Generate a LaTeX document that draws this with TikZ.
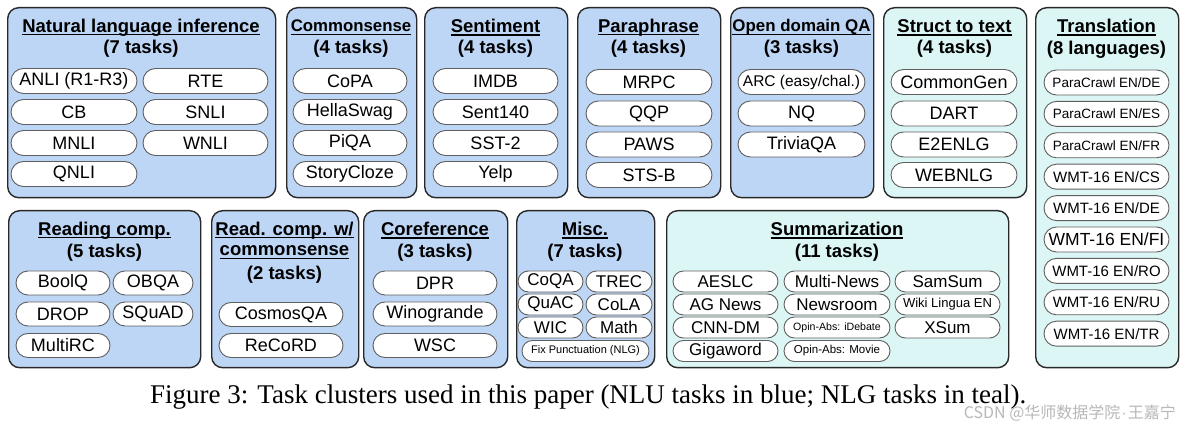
\documentclass[tikz,border=0pt]{standalone}
\usepackage{fontspec}
\setmainfont{Liberation Serif}
\setsansfont{Liberation Sans}
\newfontfamily\cjkfont{Noto Sans CJK SC}
\definecolor{nlublue}{RGB}{190,214,245}
\definecolor{nlgteal}{RGB}{219,246,244}
\definecolor{edgec}{RGB}{40,40,40}
\definecolor{pilledge}{RGB}{95,95,95}
\newcommand\ulx[1]{\setbox0\hbox{#1}\rlap{\rule[-0.17em]{\wd0}{0.07em}}\box0}
\tikzset{
  grp/.style={draw=edgec, line width=1.4pt, rounded corners=11pt, inner sep=0pt, anchor=north west},
  nlu/.style={grp, fill=nlublue},
  nlg/.style={grp, fill=nlgteal},
  pill/.style={draw=pilledge, line width=0.9pt, fill=white, inner sep=0pt, minimum height=#1, rounded corners=#1/2},
  fs/.style={font=\sffamily\fontsize{#1}{#1}\selectfont},
  ttl/.style={inner sep=0pt, font=\sffamily\bfseries\fontsize{#1}{20}\selectfont},
  ttl/.default=18.5,
}
\begin{document}
\begin{tikzpicture}[x=1pt,y=-1pt]
\useasboundingbox (0,0) rectangle (1184,430);
\fill[white] (0,0) rectangle (1184,430);

% ---------- top row ----------
\node[nlu, minimum width=268, minimum height=190] (bnli) at (7,7) {};
\node[ttl] (tnli1) at (141,27.5) {\ulx{Natural language inference}};
\node[ttl] (tnli2) at (141,48.5) {(7 tasks)};
\node[pill=25, minimum width=126, fs=18] (anli) at (74,81) {ANLI (R1-R3)};
\node[pill=25, minimum width=126, fs=18] (cb) at (74,112) {CB};
\node[pill=25, minimum width=126, fs=18] (mnli) at (74,143) {MNLI};
\node[pill=25, minimum width=126, fs=18] (qnli) at (74,174) {QNLI};
\node[pill=25, minimum width=125, fs=18] (rte) at (205.5,81) {RTE};
\node[pill=25, minimum width=125, fs=18] (snli) at (205.5,112) {SNLI};
\node[pill=25, minimum width=125, fs=18] (wnli) at (205.5,143) {WNLI};

\node[nlu, minimum width=130, minimum height=190] (bcs) at (286,7) {};
\node[ttl=16.8] (tcs1) at (351,27.5) {\ulx{Commonsense}};
\node[ttl] (tcs2) at (351,48.5) {(4 tasks)};
\node[pill=25, minimum width=114, fs=18] (copa) at (350,81) {CoPA};
\node[pill=25, minimum width=114, fs=18] (hella) at (350,112) {HellaSwag};
\node[pill=25, minimum width=114, fs=18] (piqa) at (350,143) {PiQA};
\node[pill=25, minimum width=114, fs=18] (story) at (350,174) {StoryCloze};

\node[nlu, minimum width=143, minimum height=190] (bsen) at (424,7) {};
\node[ttl] (tsen1) at (495.5,27.5) {\ulx{Sentiment}};
\node[ttl] (tsen2) at (495.5,48.5) {(4 tasks)};
\node[pill=25, minimum width=125, fs=18] (imdb) at (495.5,81) {IMDB};
\node[pill=25, minimum width=125, fs=18] (s140) at (495.5,112) {Sent140};
\node[pill=25, minimum width=125, fs=18] (sst) at (495.5,143) {SST-2};
\node[pill=25, minimum width=125, fs=18] (yelp) at (495.5,174) {Yelp};

\node[nlu, minimum width=143, minimum height=190] (bpar) at (577,7) {};
\node[ttl] (tpar1) at (648.5,27.5) {\ulx{Paraphrase}};
\node[ttl] (tpar2) at (648.5,48.5) {(4 tasks)};
\node[pill=25, minimum width=126, fs=18] (mrpc) at (649,82) {MRPC};
\node[pill=25, minimum width=126, fs=18] (qqp) at (649,113.5) {QQP};
\node[pill=25, minimum width=126, fs=18] (paws) at (649,144.5) {PAWS};
\node[pill=25, minimum width=126, fs=18] (stsb) at (649,175) {STS-B};

\node[nlu, minimum width=143, minimum height=190] (bqa) at (730,7) {};
\node[ttl=16.9] (tqa1) at (801.5,27.5) {\ulx{Open domain QA}};
\node[ttl] (tqa2) at (801.5,48.5) {(3 tasks)};
\node[pill=25, minimum width=127, fs=15.5] (arc) at (801.5,82) {ARC (easy/chal.)};
\node[pill=25, minimum width=127, fs=18] (nq) at (801.5,113.5) {NQ};
\node[pill=25, minimum width=127, fs=18] (trivia) at (801.5,144.5) {TriviaQA};

\node[nlg, minimum width=143, minimum height=190] (bst) at (883,7) {};
\node[ttl] (tst1) at (954.5,27.5) {\ulx{Struct to text}};
\node[ttl] (tst2) at (954.5,48.5) {(4 tasks)};
\node[pill=25, minimum width=126, fs=18] (cgen) at (954,82) {CommonGen};
\node[pill=25, minimum width=126, fs=18] (dart) at (954,113.5) {DART};
\node[pill=25, minimum width=126, fs=18] (e2e) at (954,144.5) {E2ENLG};
\node[pill=25, minimum width=126, fs=18] (web) at (954,175) {WEBNLG};

\node[nlg, minimum width=143, minimum height=360] (btr) at (1035,7) {};
\node[ttl] (ttr1) at (1106.5,27.5) {\ulx{Translation}};
\node[ttl] (ttr2) at (1106.5,49.5) {(8 languages)};
\node[pill=25, minimum width=125, fs=13.5] (pde) at (1106.5,82.5) {ParaCrawl EN/DE};
\node[pill=25, minimum width=125, fs=13.5] (pes) at (1106.5,113.9) {ParaCrawl EN/ES};
\node[pill=25, minimum width=125, fs=13.5] (pfr) at (1106.5,145.3) {ParaCrawl EN/FR};
\node[pill=25, minimum width=125, fs=15] (wcs) at (1106.5,176.7) {WMT-16 EN/CS};
\node[pill=25, minimum width=125, fs=15] (wde) at (1106.5,208.1) {WMT-16 EN/DE};
\node[pill=25, minimum width=125, fs=17.5] (wfi) at (1106.5,239.5) {WMT-16 EN/FI};
\node[pill=25, minimum width=125, fs=15] (wro) at (1106.5,270.9) {WMT-16 EN/RO};
\node[pill=25, minimum width=125, fs=15] (wru) at (1106.5,302.3) {WMT-16 EN/RU};
\node[pill=25, minimum width=125, fs=15] (wtr) at (1106.5,333.7) {WMT-16 EN/TR};

% ---------- bottom row ----------
\node[nlu, minimum width=192, minimum height=157] (brc) at (8,210) {};
\node[ttl] (trc1) at (104.5,230.5) {\ulx{Reading comp.}};
\node[ttl] (trc2) at (104.5,252.5) {(5 tasks)};
\node[pill=24, minimum width=94, fs=18] (boolq) at (63,283) {BoolQ};
\node[pill=24, minimum width=94, fs=18] (drop) at (63,314) {DROP};
\node[pill=24, minimum width=94, fs=18] (multirc) at (63,345.5) {MultiRC};
\node[pill=24, minimum width=80, fs=18] (obqa) at (153,283) {OBQA};
\node[pill=24, minimum width=80, fs=18] (squad) at (153,314) {SQuAD};

\node[nlu, minimum width=147, minimum height=157] (brcc) at (211,210) {};
\node[ttl] (trcc1) at (284.5,230.5) {\ulx{Read. comp. w/}};
\node[ttl] (trcc2) at (284.5,252.5) {\ulx{commonsense}};
\node[ttl] (trcc3) at (284.5,274.5) {(2 tasks)};
\node[pill=24, minimum width=124, fs=18] (cosmos) at (281,314.5) {CosmosQA};
\node[pill=24, minimum width=124, fs=18] (record) at (281,345.5) {ReCoRD};

\node[nlu, minimum width=144, minimum height=157] (bco) at (363,210) {};
\node[ttl] (tco1) at (435,230.5) {\ulx{Coreference}};
\node[ttl] (tco2) at (435,252.5) {(3 tasks)};
\node[pill=24, minimum width=124, fs=18] (dpr) at (435,283) {DPR};
\node[pill=24, minimum width=124, fs=18] (wino) at (435,314) {Winogrande};
\node[pill=24, minimum width=124, fs=18] (wsc) at (435,345.5) {WSC};

\node[nlu, minimum width=138, minimum height=157] (bmi) at (516,210) {};
\node[ttl] (tmi1) at (585,230.5) {\ulx{Misc.}};
\node[ttl] (tmi2) at (585,252.5) {(7 tasks)};
\node[pill=21, minimum width=65, fs=17] (coqa) at (550.5,281.5) {CoQA};
\node[pill=21, minimum width=65, fs=17] (quac) at (550.5,304.5) {QuAC};
\node[pill=21, minimum width=65, fs=17] (wic) at (550.5,327.5) {WIC};
\node[pill=21, minimum width=66, fs=17] (trec) at (619,281.5) {TREC};
\node[pill=21, minimum width=66, fs=17] (cola) at (619,304.5) {CoLA};
\node[pill=21, minimum width=66, fs=17] (math) at (619,327.5) {Math};
\node[pill=21, minimum width=127, fs=11] (fixp) at (585.5,351) {Fix Punctuation (NLG)};

\node[nlg, minimum width=342, minimum height=157] (bsu) at (666,210) {};
\node[ttl] (tsu1) at (837,230.5) {\ulx{Summarization}};
\node[ttl] (tsu2) at (837,252.5) {(11 tasks)};
\node[pill=21, minimum width=105, fs=17] (aeslc) at (725.5,281.5) {AESLC};
\node[pill=21, minimum width=105, fs=17] (agnews) at (725.5,304.5) {AG News};
\node[pill=21, minimum width=105, fs=17] (cnndm) at (725.5,327.5) {CNN-DM};
\node[pill=21, minimum width=105, fs=17] (giga) at (725.5,351) {Gigaword};
\node[pill=21, minimum width=106, fs=17] (mnews) at (837,281.5) {Multi-News};
\node[pill=21, minimum width=106, fs=17] (newsroom) at (837,304.5) {Newsroom};
\node[pill=21, minimum width=106, fs=10.6] (idebate) at (837,327.5) {Opin-Abs: iDebate};
\node[pill=21, minimum width=106, fs=11.5] (movie) at (837,351) {Opin-Abs: Movie};
\node[pill=21, minimum width=105, fs=17] (samsum) at (947.5,281.5) {SamSum};
\node[pill=21, minimum width=105, fs=13] (wiki) at (947.5,304.5) {Wiki Lingua EN};
\node[pill=21, minimum width=105, fs=17] (xsum) at (947.5,327.5) {XSum};

% ---------- caption ----------
\node[anchor=west, inner sep=0pt, font=\fontsize{27}{30}\selectfont] (cap) at (150,397)
  {Figure 3: Task clusters used in this paper (NLU tasks in blue; NLG tasks in teal).};
\node[anchor=east, inner sep=0pt, text=black!28, font=\cjkfont\fontsize{16}{18}\selectfont] (wm) at (1176,413)
  {CSDN @华师数据学院{\sffamily\kern1pt·\kern1pt}王嘉宁};
\end{tikzpicture}
\end{document}
